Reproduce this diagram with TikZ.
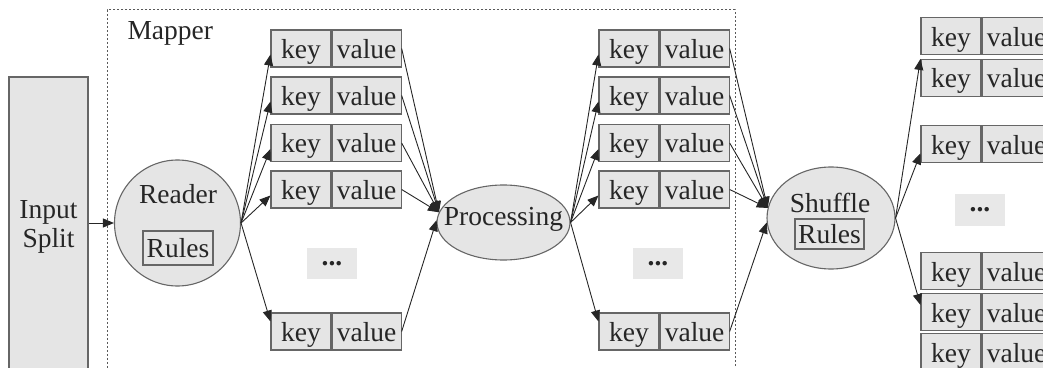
\documentclass[tikz,border=0pt]{standalone}
\usepackage{fontspec}
\setmainfont{Liberation Serif}
\usetikzlibrary{arrows.meta, positioning, shapes.geometric}

\begin{document}
\begin{tikzpicture}[
  x=1pt, y=1pt,
  every node/.style={font=\fontsize{27.5}{29}\selectfont, text=black!85},
  kbox/.style={rectangle, draw=black!60, line width=1.1pt, fill=black!10, minimum width=60pt, minimum height=37pt, inner sep=0pt, text height=20pt, text depth=0pt},
  vbox/.style={kbox, minimum width=69pt},
  dotbox/.style={rectangle, fill=black!9, minimum width=50pt, minimum height=31pt, inner sep=0pt, font=\fontsize{27.5}{29}\selectfont\bfseries},
  rulebox/.style={rectangle, draw=black!60, line width=1.1pt, inner sep=0pt, text height=18pt, text depth=0pt},
  oval/.style={ellipse, draw=black!60, line width=1.1pt, fill=black!10, inner sep=0pt},
  arrow/.style={-{Triangle[length=11pt, width=9pt]}, line width=0.9pt, draw=black!85}
  ]
  \useasboundingbox (0,0) rectangle (1043,367);
  \clip (0,0) rectangle (1043,367);

  % ========== input and mapper frame ==========
  \node[rectangle, draw=black!60, line width=1.1pt, fill=black!10, minimum width=79pt, minimum height=300pt, align=center, inner sep=0pt] (input) at (48.5,140) {Input\\Split};
  \node[rectangle, draw=black!65, dash pattern=on 2pt off 2pt, line width=1pt, minimum width=628pt, minimum height=400pt] (mapper) at (421,157) {};
  \node[anchor=base west] (maplbl) at (124,327) {Mapper};

  % ========== reader ==========
  \node[circle, draw=black!60, line width=1.1pt, fill=black!10, minimum size=126pt] (reader) at (177.5,144) {};
  \node[anchor=base] (readlbl) at (178,164) {Reader};
  \node[rulebox, minimum width=70pt, minimum height=34pt] (rules1) at (178,119) {Rules};

  % ========== first key/value column ==========
  \node[kbox] (k11) at (301,318.5) {key}; \node[vbox, right=0pt of k11] (v11) {value};
  \node[kbox] (k12) at (301,271.5) {key}; \node[vbox, right=0pt of k12] (v12) {value};
  \node[kbox] (k13) at (301,224) {key};   \node[vbox, right=0pt of k13] (v13) {value};
  \node[kbox] (k14) at (301,177.5) {key}; \node[vbox, right=0pt of k14] (v14) {value};
  \node[kbox] (k15) at (301,35.5) {key};  \node[vbox, right=0pt of k15] (v15) {value};
  \node[dotbox] (dots1) at (332,103.5) {...};

  % ========== processing ==========
  \node[oval, minimum width=133pt, minimum height=75pt] (proc) at (503.5,144.5) {};
  \node[anchor=base] (proclbl) at (503.5,142) {Processing};

  % ========== second key/value column ==========
  \node[kbox] (k21) at (629,318.5) {key}; \node[vbox, right=0pt of k21] (v21) {value};
  \node[kbox] (k22) at (629,271.5) {key}; \node[vbox, right=0pt of k22] (v22) {value};
  \node[kbox] (k23) at (629,224) {key};   \node[vbox, right=0pt of k23] (v23) {value};
  \node[kbox] (k24) at (629,177.5) {key}; \node[vbox, right=0pt of k24] (v24) {value};
  \node[kbox] (k25) at (629,35.5) {key};  \node[vbox, right=0pt of k25] (v25) {value};
  \node[dotbox] (dots2) at (658,103.5) {...};

  % ========== shuffle ==========
  \node[oval, minimum width=128pt, minimum height=102pt] (shuf) at (831,149) {};
  \node[anchor=base] (shuflbl) at (830,154) {Shuffle};
  \node[rulebox, minimum width=69pt, minimum height=30pt] (rules2) at (829.5,133) {Rules};

  % ========== shuffled key/value column ==========
  \node[kbox] (k31) at (951,330.7) {key}; \node[vbox, right=0pt of k31] (v31) {value};
  \node[kbox] (k32) at (951,289) {key};   \node[vbox, right=0pt of k32] (v32) {value};
  \node[kbox] (k33) at (951,222.7) {key}; \node[vbox, right=0pt of k33] (v33) {value};
  \node[kbox] (k34) at (951,95.7) {key};  \node[vbox, right=0pt of k34] (v34) {value};
  \node[kbox] (k35) at (951,55) {key};    \node[vbox, right=0pt of k35] (v35) {value};
  \node[kbox] (k36) at (951,15) {key};    \node[vbox, right=0pt of k36] (v36) {value};
  \node[dotbox, minimum height=32pt] (dots3) at (980,157) {...};

  % ========== connectors ==========
  \draw[arrow] (input.east |- reader.west) -- (reader.west);
  \draw[arrow] (reader.east) -- ([yshift=-6pt]k11.west); \draw[arrow] (reader.east) -- ([yshift=-6pt]k12.west);
  \draw[arrow] (reader.east) -- ([yshift=-6pt]k13.west); \draw[arrow] (reader.east) -- ([yshift=-6pt]k14.west);
  \draw[arrow] (reader.east) -- ([yshift=10pt]k15.west);
  \draw[arrow] (v11.east) -- (proc.171); \draw[arrow] (v12.east) -- (proc.171); \draw[arrow] (v13.east) -- (proc.171);
  \draw[arrow] (v14.east) -- (proc.171); \draw[arrow] (v15.east) -- (proc.178);
  \draw[arrow] (proc.east) -- ([yshift=-6pt]k21.west); \draw[arrow] (proc.east) -- ([yshift=-6pt]k22.west);
  \draw[arrow] (proc.east) -- ([yshift=-6pt]k23.west); \draw[arrow] (proc.east) -- ([yshift=-6pt]k24.west);
  \draw[arrow] (proc.east) -- ([yshift=10pt]k25.west);
  \draw[arrow] (v21.east) -- (shuf.171); \draw[arrow] (v22.east) -- (shuf.171); \draw[arrow] (v23.east) -- (shuf.171);
  \draw[arrow] (v24.east) -- (shuf.171); \draw[arrow] (v25.east) -- (shuf.184);
  \draw[arrow] (shuf.east) -- (k32.north west); \draw[arrow] (shuf.east) -- ([yshift=-9pt]k33.west);
  \draw[arrow] (shuf.east) -- ([yshift=7pt]k35.west);
\end{tikzpicture}
\end{document}
